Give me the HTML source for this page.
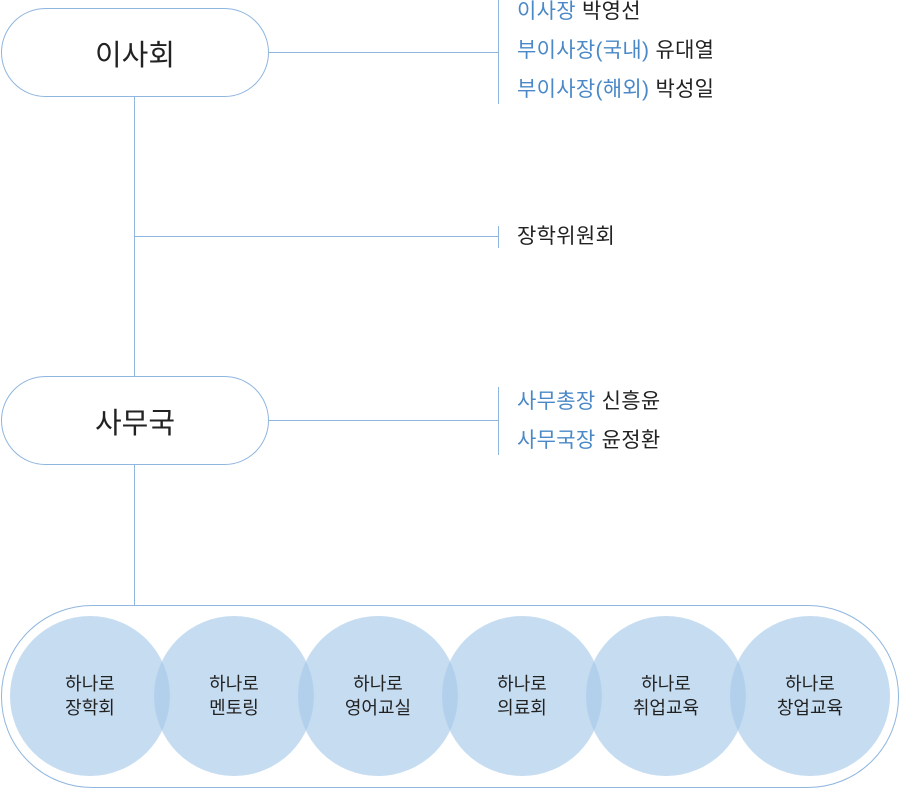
<!DOCTYPE html>
<html><head><meta charset="utf-8"><style>
body{margin:0;width:900px;height:788px;background:#fff;position:relative;font-family:"Liberation Sans","Noto Sans CJK KR",sans-serif;overflow:hidden}
.a{position:absolute}
.pill{position:absolute;left:1px;width:266px;height:87px;border:1px solid #8fb6df;border-radius:45px;background:#fff;font-size:29px;color:#222;display:flex;align-items:center;justify-content:center}
.t{position:absolute;left:517px;font-size:21px;color:#222;line-height:24px;letter-spacing:0.3px}
.b{color:#4a88c8}
.c{position:absolute;top:616px;width:160px;height:160px;border-radius:50%;background:rgba(168,202,234,0.65);display:flex;align-items:center;justify-content:center;text-align:center;font-size:18px;line-height:24px;color:#222}
</style></head><body>
<div class="a" style="left:134px;top:96px;width:1px;height:510px;background:#8fb6df"></div>
<div class="a" style="left:268px;top:52px;width:231px;height:1px;background:#8fb6df"></div>
<div class="a" style="left:134px;top:236px;width:365px;height:1px;background:#8fb6df"></div>
<div class="a" style="left:268px;top:420px;width:231px;height:1px;background:#8fb6df"></div>
<div class="a" style="left:498px;top:0;width:1px;height:104px;background:#8fb6df"></div>
<div class="a" style="left:498px;top:226px;width:1px;height:22px;background:#8fb6df"></div>
<div class="a" style="left:498px;top:387px;width:1px;height:68px;background:#8fb6df"></div>
<div class="pill" style="top:8px">이사회</div>
<div class="pill" style="top:376px">사무국</div>
<div class="t" style="top:0px"><span class="b">이사장</span> 박영선</div>
<div class="t" style="top:39px"><span class="b">부이사장(국내)</span> 유대열</div>
<div class="t" style="top:78px"><span class="b">부이사장(해외)</span> 박성일</div>
<div class="t" style="top:225px">장학위원회</div>
<div class="t" style="top:390px"><span class="b">사무총장</span> 신흥윤</div>
<div class="t" style="top:429px"><span class="b">사무국장</span> 윤정환</div>
<div class="a" style="left:1px;top:605px;width:896px;height:181px;border:1px solid #8fb6df;border-radius:91px"></div>
<div class="c" style="left:10px">하나로<br>장학회</div>
<div class="c" style="left:154px">하나로<br>멘토링</div>
<div class="c" style="left:298px">하나로<br>영어교실</div>
<div class="c" style="left:442px">하나로<br>의료회</div>
<div class="c" style="left:586px">하나로<br>취업교육</div>
<div class="c" style="left:730px">하나로<br>창업교육</div>
</body></html>
